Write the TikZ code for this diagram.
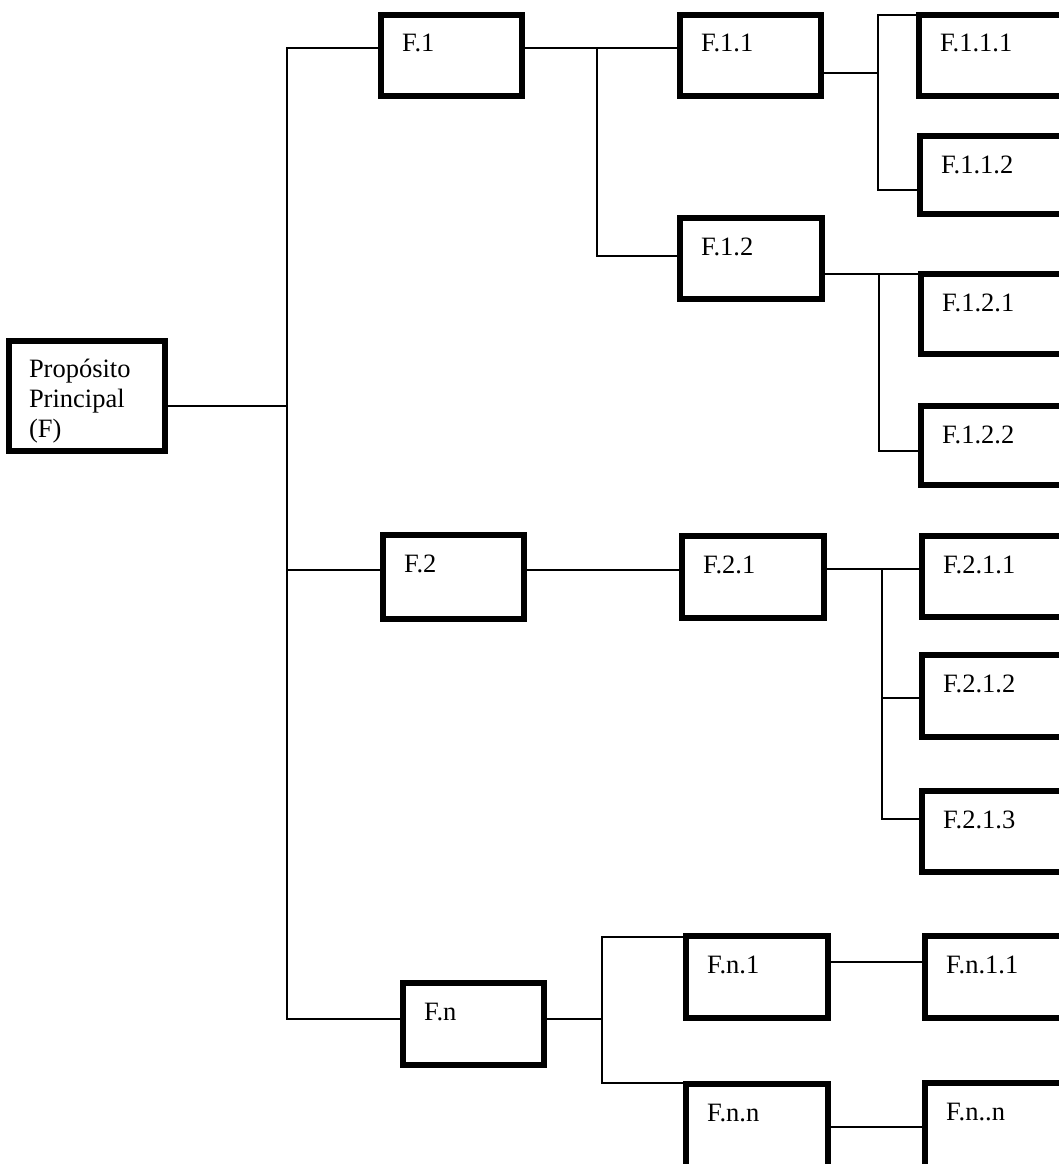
\documentclass[tikz,border=0pt]{standalone}
\usepackage{fontspec}
\setmainfont{Liberation Serif}
\begin{document}
\begin{tikzpicture}[x=1pt,y=-1pt,
  boxst/.style={draw=black, line width=6pt, fill=white, inner sep=0pt, outer sep=0pt},
  lbl/.style={inner sep=0pt, outer sep=0pt, font=\fontsize{26.5}{30}\selectfont, align=left, anchor=base west},
  conn/.style={draw=black, line width=1.7pt, line cap=rect}]
\useasboundingbox (0,0) rectangle (1059,1164);
\clip (0,0) rectangle (1059,1164);
\newcommand\mkbox[6]{%
  \node[boxst, minimum width={#4-#2-6}, minimum height={#5-#3-6}] (#1) at ({(#2+#4)/2},{(#3+#5)/2}) {};
  \node[lbl] (#1t) at ({#2+24},{#3+40}) {#6};
}
% root box (label anchored at the baseline of its last line)
\node[boxst, minimum width={168-6-6}, minimum height={454-338-6}] (root) at ({(6+168)/2},{(338+454)/2}) {};
\node[lbl] (roott) at (29,437) {Propósito\\Principal\\(F)};
% boxes
\mkbox{f1}{378}{12}{525}{99}{F.1}
\mkbox{f11}{677}{12}{824}{99}{F.1.1}
\mkbox{f12}{677}{215}{825}{302}{F.1.2}
\mkbox{f111}{916}{12}{1075}{99}{F.1.1.1}
\mkbox{f112}{917}{133}{1075}{217}{F.1.1.2}
\mkbox{f121}{918}{271}{1075}{357}{F.1.2.1}
\mkbox{f122}{918}{403}{1075}{488}{F.1.2.2}
\mkbox{f2}{380}{532}{527}{622}{F.2}
\mkbox{f21}{679}{533}{827}{621}{F.2.1}
\mkbox{f211}{919}{533}{1075}{620}{F.2.1.1}
\mkbox{f212}{919}{652}{1075}{740}{F.2.1.2}
\mkbox{f213}{919}{788}{1075}{875}{F.2.1.3}
\mkbox{fn}{400}{980}{547}{1068}{F.n}
\mkbox{fn1}{683}{933}{831}{1021}{F.n.1}
\mkbox{fn11}{922}{933}{1075}{1021}{F.n.1.1}
\mkbox{fnn}{683}{1081}{831}{1172}{F.n.n}
\mkbox{fnnn}{922}{1080}{1075}{1172}{F.n..n}
% junction coordinates
\coordinate (sr) at (287,406);
\coordinate (sp1) at (287,48);
\coordinate (sp2) at (287,570);
\coordinate (sp3) at (287,1019);
\coordinate (a1) at (597,48);
\coordinate (a2) at (597,256);
\coordinate (b0) at (878,15);
\coordinate (b1) at (878,73);
\coordinate (b2) at (878,190);
\coordinate (c1) at (879,274);
\coordinate (c2) at (879,451);
\coordinate (d) at (600,570);
\coordinate (e1) at (882,569);
\coordinate (e2) at (882,698);
\coordinate (e3) at (882,819);
\coordinate (g) at (602,1019);
\coordinate (g1) at (602,937);
\coordinate (g2) at (602,1083);
\coordinate (h1) at (870,962);
\coordinate (h2) at (870,1127);
% connectors
\draw[conn] (root.east |- sr) -- (sr);
\draw[conn] (f1.west |- sp1) -- (sp1) -- (sp3) -- (fn.west |- sp3);
\draw[conn] (sp2) -- (f2.west |- sp2);
\draw[conn] (f1.east |- a1) -- (f11.west |- a1);
\draw[conn] (a1) -- (a2) -- (f12.west |- a2);
\draw[conn] (f11.east |- b1) -- (b1);
\draw[conn] (f111.west |- b0) -- (b0) -- (b2) -- (f112.west |- b2);
\draw[conn] (f12.east |- c1) -- (f121.west |- c1);
\draw[conn] (c1) -- (c2) -- (f122.west |- c2);
\draw[conn] (f2.east |- d) -- (f21.west |- d);
\draw[conn] (f21.east |- e1) -- (f211.west |- e1);
\draw[conn] (e1) -- (e3) -- (f213.west |- e3);
\draw[conn] (e2) -- (f212.west |- e2);
\draw[conn] (fn.east |- g) -- (g);
\draw[conn] (fn1.west |- g1) -- (g1) -- (g2) -- (fnn.west |- g2);
\draw[conn] (fn1.east |- h1) -- (fn11.west |- h1);
\draw[conn] (fnn.east |- h2) -- (fnnn.west |- h2);
\end{tikzpicture}
\end{document}
